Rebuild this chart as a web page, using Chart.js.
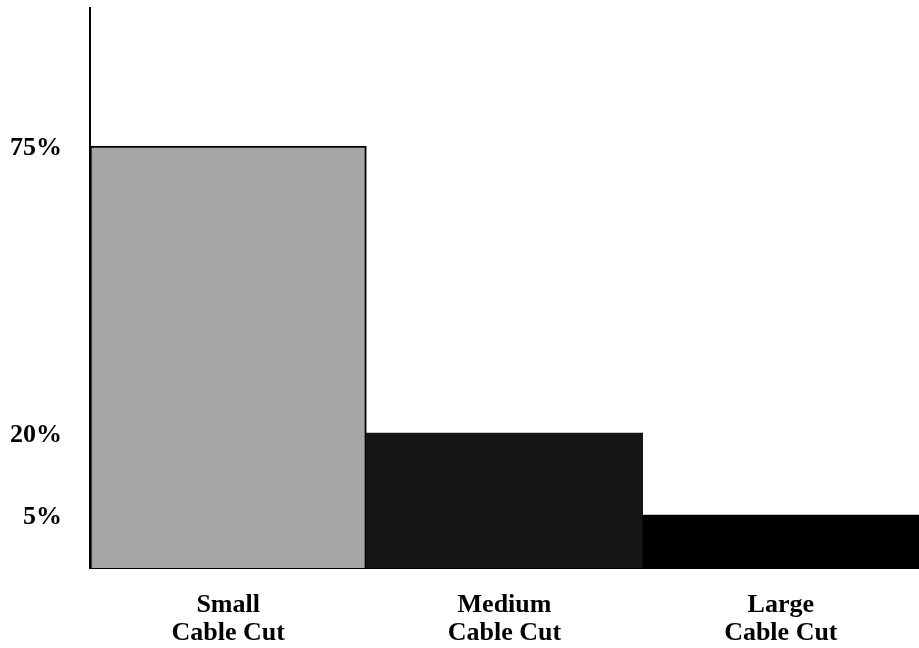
<!DOCTYPE html>
<html>
<head>
<meta charset="utf-8">
<script src="https://cdn.jsdelivr.net/npm/chart.js@4/dist/chart.umd.min.js"></script>
<style>
  html, body { margin: 0; padding: 0; background: #fff; }
  #wrap { width: 919px; height: 648px; position: relative; }
</style>
</head>
<body>
<div id="wrap"><canvas id="c"></canvas></div>
<script>
// ---- data ----
const categories = [["Small", "Cable Cut"], ["Medium", "Cable Cut"], ["Large", "Cable Cut"]];
const shares = [75, 20, 5];
const tickValues = [5, 20, 75];
const tickLabels = ["5%", "20%", "75%"];

// The original axis is schematic (not linear): map values to axis fractions piecewise.
const warpValues = [0, 5, 20, 75, 100];
const warpFracs  = [0, 0.0946, 0.241, 0.7536, 1];
function interp(x, xs, ys) {
  if (x <= xs[0]) return ys[0];
  for (let i = 1; i < xs.length; i++) {
    if (x <= xs[i]) {
      const t = (x - xs[i-1]) / (xs[i] - xs[i-1]);
      return ys[i-1] + t * (ys[i] - ys[i-1]);
    }
  }
  return ys[ys.length - 1];
}
class WarpScale extends Chart.LinearScale {
  getPixelForValue(v) { return this.getPixelForDecimal(interp(v, warpValues, warpFracs)); }
  getValueForPixel(p) { return interp(this.getDecimalForPixel(p), warpFracs, warpValues); }
}
WarpScale.id = 'warp';
WarpScale.defaults = Chart.LinearScale.defaults;
Chart.register(WarpScale);

const font = { family: "'Liberation Serif', 'DejaVu Serif', serif", weight: 'bold', size: 26, lineHeight: 1.08 };

new Chart(document.getElementById('c'), {
  type: 'bar',
  data: {
    labels: categories,
    datasets: [{
      data: shares,
      backgroundColor: ['#a6a6a6', '#151515', '#000000'],
      borderColor: ['#000000', '#000000', '#000000'],
      borderWidth: [2, 0, 0],
      borderSkipped: 'bottom',
      barPercentage: 1,
      categoryPercentage: 1
    }]
  },
  options: {
    responsive: true,
    maintainAspectRatio: false,
    animation: false,
    devicePixelRatio: 1,
    layout: { padding: { top: 8, right: 0, left: 0, bottom: 0 } },
    plugins: { legend: { display: false }, tooltip: { enabled: false } },
    scales: {
      x: {
        grid: { display: false, drawTicks: false },
        border: { display: true, color: '#000', width: 2 },
        ticks: { color: '#000', font: font, padding: 23, maxRotation: 0, autoSkip: false },
        afterFit: (s) => { s.height = 80; s.paddingLeft = 0; s.paddingRight = 0; }
      },
      y: {
        type: 'warp',
        min: 0,
        max: 100,
        grid: { display: false, drawTicks: false },
        border: { display: true, color: '#000', width: 2 },
        afterBuildTicks: (s) => { s.ticks = tickValues.map(v => ({ value: v })); },
        ticks: {
          color: '#000',
          font: font,
          padding: 28,
          labelOffset: 2,
          callback: (v) => tickLabels[tickValues.indexOf(v)]
        },
        afterFit: (s) => { s.width = 90; s.paddingTop = 0; s.paddingBottom = 0; }
      }
    }
  }
});
</script>
</body>
</html>
